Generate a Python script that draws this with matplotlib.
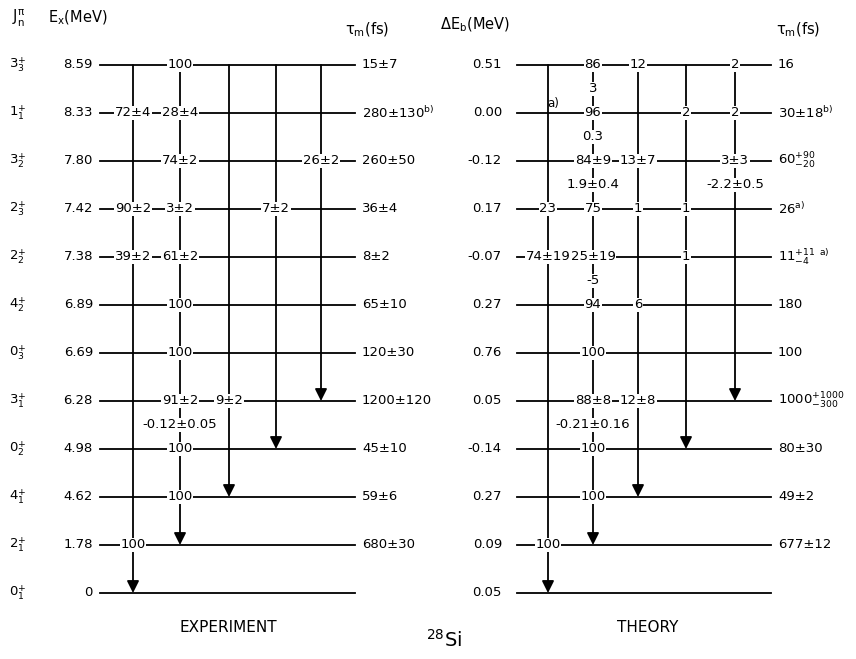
import matplotlib.pyplot as plt

plt.rcParams['font.family'] = 'DejaVu Sans'
plt.rcParams['mathtext.default'] = 'regular'

# levels, top to bottom
spins = ["3_3", "1_1", "3_2", "2_3", "2_2", "4_2", "0_3", "3_1", "0_2", "4_1", "2_1", "0_1"]
ex_mev = ["8.59", "8.33", "7.80", "7.42", "7.38", "6.89", "6.69", "6.28", "4.98", "4.62", "1.78", "0"]
tau_exp = ["15±7", "280±130$^{b)}$", "260±50", "36±4", "8±2", "65±10", "120±30",
           "1200±120", "45±10", "59±6", "680±30", ""]
de_b = ["0.51", "0.00", "-0.12", "0.17", "-0.07", "0.27", "0.76", "0.05", "-0.14", "0.27", "0.09", "0.05"]
tau_th = ["16", "30±18$^{b)}$", "$60^{+90}_{-20}$", "26$^{a)}$", "$11^{+11}_{-4}$ $^{a)}$", "180", "100",
          "$1000^{+1000}_{-300}$", "80±30", "49±2", "677±12", ""]

# gamma cascades: each column starts at the top level and ends on these levels
col_targets = ["0_1", "2_1", "4_1", "0_2", "3_1"]

# branching ratios (%) written on the levels: (level, column, text)
br_exp = [("3_3", 1, "100"),
          ("1_1", 0, "72±4"), ("1_1", 1, "28±4"),
          ("3_2", 1, "74±2"), ("3_2", 4, "26±2"),
          ("2_3", 0, "90±2"), ("2_3", 1, "3±2"), ("2_3", 3, "7±2"),
          ("2_2", 0, "39±2"), ("2_2", 1, "61±2"),
          ("4_2", 1, "100"), ("0_3", 1, "100"),
          ("3_1", 1, "91±2"), ("3_1", 2, "9±2"),
          ("0_2", 1, "100"), ("4_1", 1, "100"), ("2_1", 0, "100")]
br_th = [("3_3", 1, "86"), ("3_3", 2, "12"), ("3_3", 4, "2"),
         ("1_1", 1, "96"), ("1_1", 3, "2"), ("1_1", 4, "2"),
         ("3_2", 1, "84±9"), ("3_2", 2, "13±7"), ("3_2", 4, "3±3"),
         ("2_3", 0, "23"), ("2_3", 1, "75"), ("2_3", 2, "1"), ("2_3", 3, "1"),
         ("2_2", 0, "74±19"), ("2_2", 1, "25±19"), ("2_2", 3, "1"),
         ("4_2", 1, "94"), ("4_2", 2, "6"), ("0_3", 1, "100"),
         ("3_1", 1, "88±8"), ("3_1", 2, "12±8"),
         ("0_2", 1, "100"), ("4_1", 1, "100"), ("2_1", 0, "100")]

# mixing ratios written under a level: (level, column, text)
mix_exp = [("3_1", 1, "-0.12±0.05")]
mix_th = [("3_3", 1, "3"), ("1_1", 1, "0.3"), ("3_2", 1, "1.9±0.4"), ("3_2", 4, "-2.2±0.5"),
          ("2_2", 1, "-5"), ("3_1", 1, "-0.21±0.16")]

nlev = len(spins)
lev_y = {s: nlev - 1 - i for i, s in enumerate(spins)}


def py(p):
    # pixel row -> level units
    return (593 - p) / 48.0


fig = plt.figure(figsize=(8.56, 6.59), dpi=100)
ax = fig.add_axes([0, 0, 1, 1])
ax.set_xlim(0, 856)
ax.set_ylim(py(659), py(0))
ax.axis('off')

wb = dict(facecolor='white', edgecolor='none', pad=0.6)
fs = 9.5


def panel(x0, x1, cols, lab_x, labels, tau_x, taus, brs, mixes):
    for i, s in enumerate(spins):
        y = lev_y[s]
        ax.plot([x0, x1], [y, y], color='k', lw=1.3, zorder=1)
        ax.text(lab_x, y, labels[i], ha='right', va='center', fontsize=fs)
        if taus[i]:
            ax.text(tau_x, y, taus[i], ha='left', va='center', fontsize=fs)
    top = lev_y[spins[0]]
    for c, t in zip(cols, col_targets):
        ax.annotate("", xy=(c, lev_y[t]), xytext=(c, top),
                    arrowprops=dict(arrowstyle='-|>', color='k', lw=1.3,
                                    mutation_scale=18, shrinkA=0, shrinkB=0),
                    zorder=2)
    for s, c, txt in brs:
        ax.text(cols[c], lev_y[s], txt, ha='center', va='center', fontsize=fs,
                bbox=wb, zorder=3)
    for s, c, txt in mixes:
        ax.text(cols[c], lev_y[s] - 0.5, txt, ha='center', va='center', fontsize=fs,
                bbox=wb, zorder=3)


panel(100, 355, [133, 180, 229, 276, 321], 93, ex_mev, 362, tau_exp, br_exp, mix_exp)
panel(517, 771, [548, 593, 638, 686, 735], 502, de_b, 778, tau_th, br_th, mix_th)

for s in spins:
    j, n = s.split("_")
    ax.text(18, lev_y[s], "$%s^{+}_{%s}$" % (j, n), ha='center', va='center', fontsize=fs)

ax.text(12, py(18), r"$J^{\pi}_{n}$", ha='left', va='center', fontsize=10.5)
ax.text(48, py(18), "$E_x$(MeV)", ha='left', va='center', fontsize=10.5)
ax.text(345, py(30), r"$\tau_m$(fs)", ha='left', va='center', fontsize=10.5)
ax.text(440, py(25), r"$\Delta E_b$(MeV)", ha='left', va='center', fontsize=10.5)
ax.text(776, py(30), r"$\tau_m$(fs)", ha='left', va='center', fontsize=10.5)
ax.text(553, py(104), "a)", ha='center', va='center', fontsize=8.5)

ax.text(228, py(627), "EXPERIMENT", ha='center', va='center', fontsize=11)
ax.text(648, py(627), "THEORY", ha='center', va='center', fontsize=11)
ax.text(444, py(640), "$^{28}$Si", ha='center', va='center', fontsize=14)

fig.savefig("out.png", dpi=100)
